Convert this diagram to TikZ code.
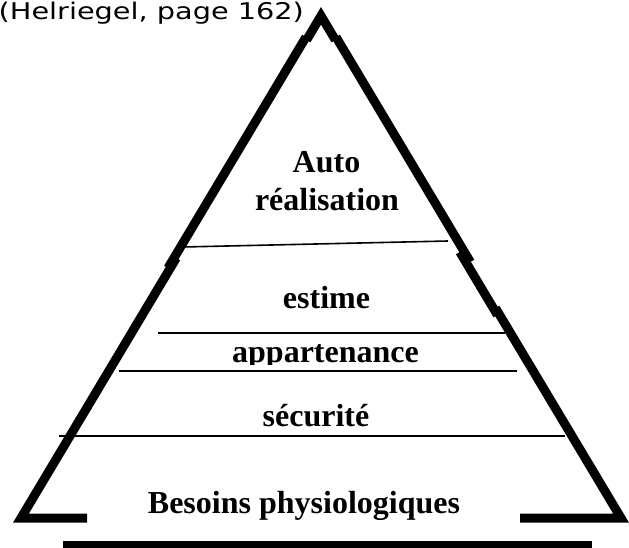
\documentclass[tikz,border=0pt]{standalone}
\usepackage{fontspec}
\setmainfont{Liberation Serif}
\newfontfamily\notefont{DejaVu Sans}
\begin{document}
\begin{tikzpicture}[x=1pt,y=-1pt,
  edge/.style={line width=9pt, line join=miter, line cap=butt},
  baseline rule/.style={line width=8pt, line cap=butt},
  tier/.style={line width=1.6pt},
  lbl/.style={font=\fontsize{32}{38}\selectfont\bfseries, anchor=base, inner sep=0pt}]
\useasboundingbox (0,0) rectangle (629,548);

% outline points of the pyramid (centre line of the thick strokes)
\coordinate (apex) at (321,15.8);
\coordinate (l40) at (306.6,40);
\coordinate (r40) at (335.4,40);
\coordinate (lA) at (306.0,37);
\coordinate (lB) at (168.0,268);
\coordinate (lC) at (176.3,258);
\coordinate (lcorner) at (21,518);
\coordinate (lend) at (87,518);
\coordinate (rA) at (336.0,37);
\coordinate (rB) at (470.4,262);
\coordinate (rC) at (459.8,252);
\coordinate (rD) at (497.4,315);
\coordinate (rE) at (495.5,308);
\coordinate (rcorner) at (621,518);
\coordinate (rend) at (520,518);
\coordinate (bl) at (63,545);
\coordinate (br) at (592,545);

% thick outline, drawn in slightly offset pieces
\draw[edge] (l40) -- (apex) -- (r40);
\draw[edge] (lA) -- (lB);
\draw[edge] (lC) -- (lcorner) -- (lend);
\draw[edge] (rA) -- (rB);
\draw[edge] (rC) -- (rD);
\draw[edge] (rE) -- (rcorner) -- (rend);
\draw[baseline rule] (bl) -- (br);

% dividing lines between the levels
\coordinate (t1a) at (183,247); \coordinate (t1b) at (448,241);
\coordinate (t2a) at (158,333); \coordinate (t2b) at (505,333);
\coordinate (t3a) at (119,371); \coordinate (t3b) at (517,371);
\coordinate (t4a) at (59,436);  \coordinate (t4b) at (565,436);
\draw[tier] (t1a) -- (t1b);
\draw[tier] (t2a) -- (t2b);
\draw[tier] (t3a) -- (t3b);
\draw[tier] (t4a) -- (t4b);

% level labels
\node[lbl] (auto) at (326.5,173) {Auto};
\node[lbl] (real) at (327,211) {réalisation};
\node[lbl] (estime) at (326.5,308) {estime};
\begin{scope}
  \clip (0,0) rectangle (629,364);
  \node[lbl] (appart) at (325.5,362) {appartenance};
\end{scope}
\node[lbl] (secu) at (316,426) {sécurité};
\node[lbl] (physio) at (304,513) {Besoins physiologiques};

% source note, set wide
\node[font=\notefont\fontsize{23}{28}\selectfont, anchor=base west, inner sep=0pt] (source) at (-1.5,20) {\scalebox{1.25}[1]{(Helriegel, page 162)}};
\end{tikzpicture}
\end{document}
